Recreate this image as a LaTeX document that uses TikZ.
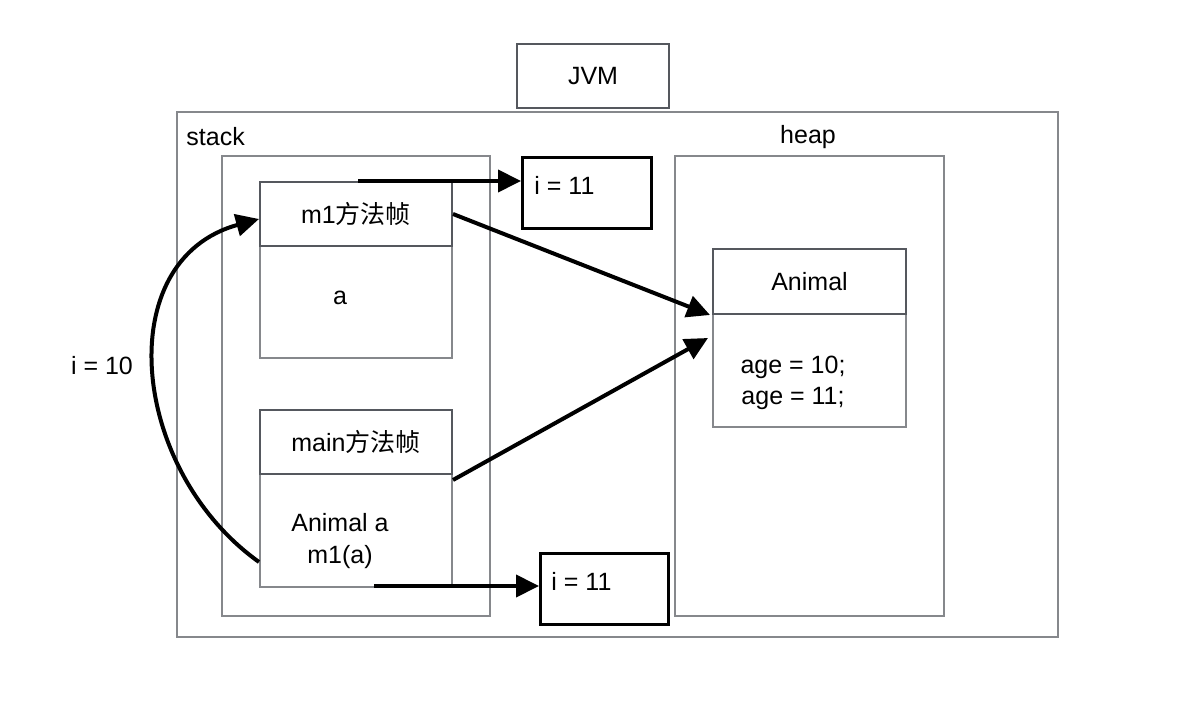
\documentclass[tikz,border=0pt]{standalone}
\usepackage{fontspec}
\setmainfont{Liberation Sans}
\newfontfamily\cjk{Noto Sans CJK SC}
\usetikzlibrary{positioning,arrows.meta}
\definecolor{boxgrey}{HTML}{86888C}
\definecolor{framegrey}{HTML}{55585E}

\begin{document}
\begin{tikzpicture}[x=0.5pt,y=-0.5pt]
  \tikzstyle{grey box}=[rectangle,draw=boxgrey,line width=1pt,anchor=north west,inner sep=0]
  \tikzstyle{dark box}=[rectangle,draw=framegrey,line width=1pt,anchor=north west,inner sep=0]
  \tikzset{
black box/.style={rectangle,draw=black,line width=1.3pt,anchor=north west,inner sep=0},
label/.style={inner sep=0,font=\fontsize{12.5}{15.8}\selectfont},
ptr/.style={line width=2pt,-{Triangle[length=11.5pt,width=11pt]}}
}
  \useasboundingbox (0,0) rectangle (1202,710);
  % frames
  \node[grey box,minimum width=440.5pt,minimum height=262.5pt](outer) at (176,111){};
  \node[dark box,minimum width=76pt,minimum height=32pt,font=\fontsize{12.5}{15}\selectfont](jvm) at (516,43){JVM};
  \node[grey box,minimum width=134pt,minimum height=230pt](stack) at (221,155){};
  \node[grey box,minimum width=134.5pt,minimum height=230pt](heap) at (674,155){};
  \node[label,anchor=west](stacklabel) at (186,137){stack};
  \node[label](heaplabel) at (808,137){heap};
  % frames of the methods
  \node[grey box,minimum width=96pt,minimum height=56pt](m1body) at (259,245){};
  \node[dark box,minimum width=96pt,minimum height=32pt,label](m1head) at (259,181){m1{\cjk 方法帧}};
  \node[label](m1var) at (340,298){a};
  \node[grey box,minimum width=96pt,minimum height=56.5pt](mainbody) at (259,473){};
  \node[dark box,minimum width=96pt,minimum height=32pt,label](mainhead) at (259,409){main{\cjk 方法帧}};
  \node[label,align=center](mainvar) at (340,541){Animal a\\m1(a)};
  % values
  \node[black box,minimum width=64.5pt,minimum height=35.5pt](itop) at (521,156){};
  \node[label,anchor=west](itoptext) at (534,185){i = 11};
  \node[black box,minimum width=64pt,minimum height=35.5pt](ibot) at (539,552){};
  \node[label,anchor=west](ibottext) at (551,581){i = 11};
  % object
  \node[grey box,minimum width=96.5pt,minimum height=56.5pt](animalbody) at (712,313){};
  \node[dark box,minimum width=96.5pt,minimum height=32.5pt,label](animalhead) at (712,248){Animal};
  \node[label,align=center](agetext) at (793,383){age = 10;\\age = 11;};
  \node[label](callarg) at (102,366){i = 10};
  % pointers
  \draw[ptr] ([xshift=1pt]m1head.north) -- (m1head.north -| itop.west);
  \draw[ptr] ([xshift=9pt,yshift=1pt]mainbody.south) -- ([yshift=1pt]mainbody.south -| ibot.west);
  \draw[ptr] (m1head.east) -- ([xshift=-1pt]animalhead.south west);
  \draw[ptr] ([yshift=-3.5pt]mainbody.north east) -- ([xshift=-2pt,yshift=-12.5pt]animalbody.north west);
  \draw[ptr] ([yshift=13pt]mainbody.south west) .. controls (130,470) and (110,260) .. ([yshift=-2.5pt]m1head.west);
\end{tikzpicture}
\end{document}
